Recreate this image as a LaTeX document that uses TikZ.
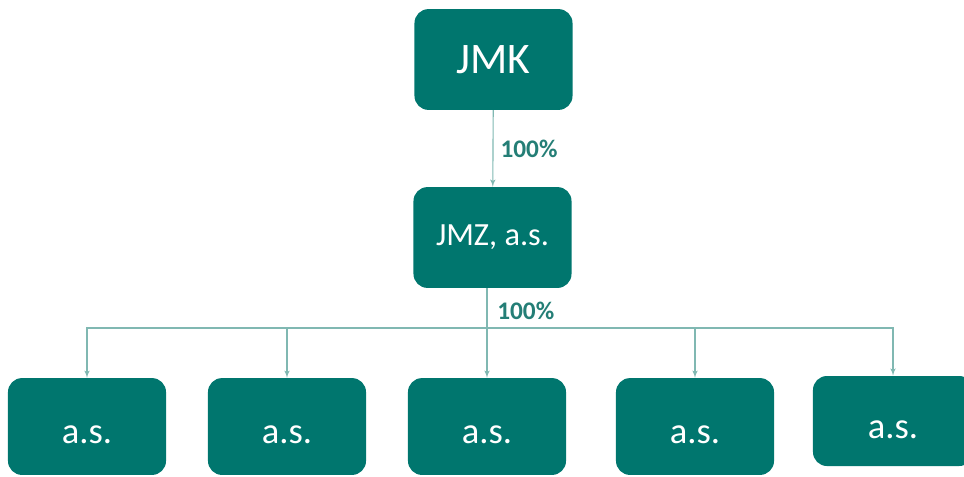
\documentclass[tikz,border=0pt]{standalone}
\usepackage{fontspec}
\setmainfont{Carlito}
\usetikzlibrary{shapes,arrows}
\usetikzlibrary{calc}
\usetikzlibrary{positioning}
\definecolor{boxteal}{RGB}{0,118,110}
\definecolor{lineteal}{RGB}{128,184,178}
\definecolor{labelteal}{RGB}{36,126,118}
\tikzstyle{block} = [fill=boxteal, rectangle, rounded corners=0.35cm, text=white,
    minimum height=2.52cm, minimum width=3.95cm]
\tikzstyle{sub} = [block, font=\fontsize{26}{30}\selectfont, minimum height=2.42cm,
    text height=0.85cm, text depth=0pt]
\tikzstyle{share} = [text=labelteal, anchor=west, inner sep=0pt, font=\bfseries\fontsize{18}{20}\selectfont]
\tikzstyle{link} = [draw=lineteal, line width=0.8pt]
\tikzstyle{input} = [coordinate]

\begin{document}
\begin{tikzpicture}[x=0.025cm, y=-0.025cm, >=latex']

    \useasboundingbox (0,0) rectangle (964,476);
    \clip (0,0) rectangle (964,476);

    \node[block, font=\fontsize{31}{34}\selectfont] at (493.5,59.5) (jmk) {JMK};
    \node[block, font=\fontsize{23}{26}\selectfont] at (492.5,237.5) (jmz) {JMZ, a.s.};
    \draw[link,->] (jmk) -- node[share, pos=0.5, xshift=0.175cm] {100\%} (jmz);

    % subsidiaries
    \node[sub] at (87,426.5) (as1) {a.s.};
    \node[sub] at (287,426.5) (as2) {a.s.};
    \node[sub] at (487,426.5) (as3) {a.s.};
    \node[sub] at (695,426.5) (as4) {a.s.};
    \node[sub, minimum height=2.25cm, minimum width=4cm] at (893,421) (as5) {a.s.};

    \node [input] at (487,328) (split) {};
    \draw[link] (jmz.south -| split) -- (split);
    \node[share] at (497,311) (share2) {100\%};
    \draw[link,->] (split) -| (as1.north);
    \draw[link,->] (split) -| (as2.north);
    \draw[link,->] (split) -- (as3.north);
    \draw[link,->] (split) -| (as4.north);
    \draw[link,->] (split) -| (as5.north);
\end{tikzpicture}
\end{document}
